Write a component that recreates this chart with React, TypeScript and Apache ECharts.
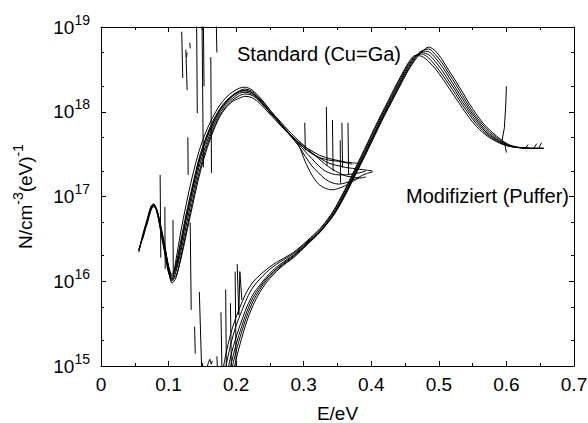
import React, { useEffect, useRef } from "react";
import * as echarts from "echarts";

const FONT = '"Liberation Sans", Arial, sans-serif';

// Standard (Cu=Ga) family: shared energy grid (eV) and densities
const stdX = [0.056,0.062,0.068,0.074,0.078,0.083,0.089,0.095,0.100,0.105,
  0.111,0.118,0.126,0.135,0.145,0.155,0.165,0.175,0.185,0.195,
  0.205,0.213,0.222,0.232,0.242,0.252,0.262,0.272,0.282,0.292,
  0.302,0.312,0.322,0.332,0.342,0.352,0.362,0.372,0.382,0.392,0.402];
const std1 = [2.3e16,3.4e16,5.0e16,7.4e16,8.0e16,6.6e16,3.8e16,2.2e16,1.4e16,1.1e16,
  1.5e16,2.7e16,5.6e16,1.2e17,2.6e17,4.6e17,7.2e17,1.02e18,1.3e18,1.55e18,
  1.74e18,1.8e18,1.7e18,1.45e18,1.18e18,9.5e17,7.7e17,6.3e17,5.2e17,4.4e17,
  3.85e17,3.45e17,3.1e17,2.9e17,2.75e17,2.65e17,2.55e17,2.5e17,2.45e17,null,null];
const std2 = [2.4e16,3.3e16,4.8e16,7.0e16,7.8e16,6.9e16,4.2e16,2.4e16,1.5e16,1.05e16,
  1.15e16,1.8e16,3.5e16,7.5e16,1.7e17,3.3e17,5.6e17,8.5e17,1.12e18,1.33e18,
  1.45e18,1.52e18,1.48e18,1.32e18,1.1e18,9.0e17,7.4e17,6.1e17,5.1e17,4.3e17,
  3.7e17,3.25e17,2.9e17,2.6e17,2.4e17,2.3e17,2.2e17,2.15e17,2.1e17,2.05e17,2.0e17];
const std3 = [2.2e16,3.6e16,5.3e16,7.7e16,8.2e16,6.4e16,3.6e16,2.0e16,1.25e16,1.05e16,
  1.8e16,3.8e16,8.0e16,1.7e17,3.4e17,5.7e17,8.5e17,1.17e18,1.47e18,1.72e18,
  1.9e18,1.95e18,1.84e18,1.57e18,1.27e18,1.0e18,8.0e17,6.4e17,5.2e17,4.3e17,
  3.65e17,3.2e17,2.9e17,2.75e17,2.65e17,2.6e17,2.5e17,2.4e17,null,null,null];
const std4 = [null,null,4.6e16,6.9e16,7.6e16,6.7e16,4.3e16,2.5e16,1.4e16,9.5e15,
  1.1e16,1.9e16,3.8e16,8.5e16,1.9e17,3.6e17,6.0e17,8.8e17,1.15e18,1.38e18,
  1.55e18,1.62e18,1.58e18,1.4e18,1.15e18,9.4e17,7.7e17,6.3e17,5.1e17,4.2e17,
  3.4e17,2.8e17,2.3e17,2.0e17,1.85e17,1.8e17,1.8e17,1.85e17,1.9e17,2.0e17,null];
const std5 = [2.3e16,3.5e16,5.1e16,7.5e16,8.1e16,6.8e16,4.0e16,2.3e16,1.5e16,1.2e16,
  1.6e16,3.0e16,6.2e16,1.3e17,2.8e17,4.9e17,7.6e17,1.06e18,1.34e18,1.58e18,
  1.77e18,1.85e18,1.77e18,1.52e18,1.24e18,1.0e18,8.2e17,6.7e17,5.5e17,4.6e17,
  3.9e17,3.3e17,2.8e17,2.4e17,2.1e17,1.9e17,1.75e17,1.7e17,1.65e17,1.7e17,null];
const std6 = [null,3.2e16,4.9e16,7.2e16,7.9e16,6.5e16,3.9e16,2.1e16,1.3e16,1.0e16,
  1.3e16,2.2e16,4.5e16,1.0e17,2.2e17,4.0e17,6.5e17,9.4e17,1.22e18,1.45e18,
  1.65e18,1.7e18,1.64e18,1.42e18,1.17e18,9.5e17,7.7e17,6.2e17,5.0e17,4.0e17,
  3.0e17,2.3e17,1.9e17,1.6e17,1.45e17,1.4e17,1.45e17,1.55e17,1.7e17,1.85e17,1.95e17];
const std7 = [2.3e16,3.4e16,5.0e16,7.3e16,7.9e16,6.7e16,4.0e16,2.3e16,1.45e16,1.15e16,
  1.4e16,2.5e16,5.3e16,1.15e17,2.5e17,4.5e17,7.0e17,1.0e18,1.28e18,1.53e18,
  1.72e18,1.76e18,1.7e18,1.47e18,1.2e18,9.6e17,7.8e17,6.3e17,5.1e17,4.1e17,
  2.6e17,1.8e17,1.4e17,1.25e17,1.2e17,1.25e17,1.35e17,1.5e17,1.65e17,null,null];

// Modifiziert (Puffer) family
const modX = [0.178,0.185,0.192,0.2,0.208,0.216,0.225,0.235,0.245,0.255,
  0.265,0.275,0.285,0.295,0.305,0.315,0.325,0.335,0.345,0.355,
  0.365,0.375,0.385,0.395,0.405,0.415,0.425,0.435,0.445,0.455,
  0.465,0.475,0.485,0.495,0.505,0.515,0.525,0.535,0.545,0.555,
  0.565,0.575,0.585,0.595,0.605,0.615,0.625,0.635,0.645,0.655];
const mod1 = [7e14,1.4e15,2.4e15,3.8e15,5.5e15,7.6e15,9.8e15,1.18e16,1.38e16,1.58e16,
  1.77e16,1.96e16,2.2e16,2.55e16,3.0e16,3.55e16,4.25e16,5.35e16,7.0e16,9.8e16,
  1.4e17,2.05e17,3.0e17,4.4e17,6.5e17,9.4e17,1.35e18,1.95e18,2.75e18,3.8e18,
  4.6e18,4.5e18,3.9e18,3.2e18,2.5e18,1.9e18,1.45e18,1.1e18,8.5e17,6.8e17,
  5.7e17,4.95e17,4.45e17,4.1e17,3.9e17,3.8e17,3.75e17,3.7e17,3.7e17,3.7e17];
const mod2 = [5e14,1.0e15,1.8e15,3.0e15,4.4e15,6.3e15,8.5e15,1.06e16,1.28e16,1.49e16,
  1.69e16,1.89e16,2.13e16,2.48e16,2.92e16,3.45e16,4.15e16,5.2e16,6.8e16,9.5e16,
  1.35e17,1.95e17,2.85e17,4.2e17,6.2e17,9.0e17,1.29e18,1.85e18,2.65e18,3.65e18,
  4.6e18,4.8e18,4.3e18,3.5e18,2.75e18,2.1e18,1.6e18,1.2e18,9.3e17,7.3e17,
  6.0e17,5.1e17,4.55e17,4.15e17,3.9e17,3.8e17,3.75e17,3.7e17,3.7e17,3.7e17];
const mod3 = [4e14,7e14,1.3e15,2.2e15,3.4e15,5.0e15,7.0e15,9.0e15,1.13e16,1.36e16,
  1.58e16,1.8e16,2.05e16,2.4e16,2.85e16,3.35e16,4.0e16,5.0e16,6.5e16,9.0e16,
  1.28e17,1.85e17,2.7e17,3.95e17,5.8e17,8.5e17,1.22e18,1.75e18,2.5e18,3.5e18,
  4.5e18,5.0e18,4.7e18,3.9e18,3.05e18,2.3e18,1.75e18,1.3e18,1.0e18,7.8e17,
  6.3e17,5.3e17,4.7e17,4.2e17,3.95e17,3.8e17,3.75e17,3.7e17,3.7e17,null];
const mod4 = [null,5e14,1.0e15,1.8e15,2.9e15,4.4e15,6.4e15,8.5e15,1.08e16,1.3e16,
  1.52e16,1.75e16,2.0e16,2.35e16,2.8e16,3.3e16,3.95e16,4.9e16,6.3e16,8.7e16,
  1.24e17,1.8e17,2.6e17,3.8e17,5.6e17,8.2e17,1.17e18,1.67e18,2.4e18,3.35e18,
  4.4e18,5.2e18,5.1e18,4.3e18,3.4e18,2.55e18,1.9e18,1.42e18,1.07e18,8.3e17,
  6.6e17,5.5e17,4.8e17,4.3e17,4.0e17,3.8e17,3.75e17,3.7e17,3.7e17,3.7e17];
const mod5 = [null,4e14,8e14,1.5e15,2.5e15,3.9e15,5.8e15,8.0e15,1.03e16,1.25e16,
  1.48e16,1.7e16,1.95e16,2.3e16,2.75e16,3.25e16,3.9e16,4.85e16,6.2e16,8.5e16,
  1.2e17,1.75e17,2.5e17,3.65e17,5.4e17,7.9e17,1.13e18,1.6e18,2.3e18,3.2e18,
  4.25e18,5.2e18,5.5e18,4.7e18,3.75e18,2.8e18,2.1e18,1.55e18,1.15e18,8.8e17,
  7.0e17,5.8e17,5.0e17,4.4e17,4.0e17,3.8e17,3.75e17,3.7e17,null,null];
const mod6 = [null,null,6e14,1.2e15,2.1e15,3.4e15,5.2e15,7.4e15,9.7e15,1.2e16,
  1.43e16,1.66e16,1.9e16,2.25e16,2.7e16,3.2e16,3.85e16,4.8e16,6.1e16,8.3e16,
  1.17e17,1.7e17,2.45e17,3.55e17,5.2e17,7.6e17,1.09e18,1.55e18,2.2e18,3.1e18,
  4.1e18,5.1e18,5.8e18,5.2e18,4.1e18,3.05e18,2.3e18,1.7e18,1.25e18,9.5e17,
  7.4e17,6.1e17,5.2e17,4.5e17,4.05e17,3.85e17,3.75e17,3.7e17,3.7e17,3.7e17];

// Noise spikes (short measured segments)
const spikes: number[][][] = [
  [[0.1195, 8.8e18], [0.121, 2.5e18]],
  [[0.1255, 5.4e18], [0.1275, 1.8e18]],
  [[0.1265, 4.4e18], [0.1275, 5.0e18]],
  [[0.1315, 6.5e18], [0.132, 5.6e18]],
  [[0.1415, 1.2e19], [0.1425, 9.6e17]],
  [[0.1495, 1.2e19], [0.1515, 2.2e17]],
  [[0.1515, 1.2e19], [0.1525, 2.0e18]],
  [[0.1625, 4.4e18], [0.1635, 1.9e17]],
  [[0.1705, 1.2e19], [0.1715, 5.0e18]],
  [[0.1285, 5.0e17], [0.129, 1.8e17]],
  [[0.0875, 1.8e17], [0.0885, 1.9e16]],
  [[0.0945, 7.5e16], [0.095, 1.4e16]],
  [[0.1065, 5.3e16], [0.107, 1.2e16]],
  [[0.132, 4.9e16], [0.1335, 4.6e15]],
  [[0.1385, 2.9e15], [0.1395, 1.4e15]],
  [[0.1455, 7.5e15], [0.149, 9e14]],
  [[0.156, 9e14], [0.159, 1.1e15], [0.161, 1.2e15], [0.163, 1.05e15], [0.165, 1.15e15]],
  [[0.1715, 1.3e15], [0.1725, 9e14]],
  [[0.1775, 4.3e15], [0.179, 9e14]],
  [[0.1845, 8e15], [0.1855, 9e14]],
  [[0.1915, 5.5e15], [0.193, 9e14]],
  [[0.1985, 1.3e16], [0.2, 9e14]],
  [[0.2015, 1.6e16], [0.204, 4e15], [0.2055, 1.3e16], [0.2085, 6e15]],
  [[0.3015, 7.4e17], [0.3025, 3.5e17]],
  [[0.3335, 1.14e18], [0.3345, 2.3e17]],
  [[0.3425, 8e17], [0.3435, 2.0e17]],
  [[0.3565, 7.4e17], [0.3575, 2.2e17]],
  [[0.3655, 7.4e17], [0.3665, 1.8e17]],
  [[0.354, 4.6e17], [0.3545, 1.45e17]],
  [[0.593, 4.3e17], [0.597, 6.5e17], [0.599, 1.2e18], [0.6, 2.0e18]],
  [[0.598, 4.0e17], [0.6, 3.3e17]],
  [[0.628, 3.7e17], [0.632, 4.1e17]],
  [[0.64, 3.7e17], [0.645, 4.2e17]],
  [[0.648, 3.75e17], [0.652, 4.3e17]],
];

const yMajor = [1e15, 1e16, 1e17, 1e18, 1e19];
const yMinor = [2e15, 5e15, 2e16, 5e16, 2e17, 5e17, 2e18, 5e18];

const pair = (xs: number[], ys: (number | null)[]) =>
  xs.map((x, i) => [x, ys[i] === undefined ? null : ys[i]]);

export default function App() {
  const ref = useRef<HTMLDivElement>(null);
  useEffect(() => {
    if (!ref.current) return;
    const chart = echarts.init(ref.current, undefined, { renderer: "svg" });
    const lineBase = {
      type: "line",
      showSymbol: false,
      symbol: "none",
      silent: true,
      clip: true,
      smooth: 0.3,
      lineStyle: { color: "#000", width: 1 },
      xAxisIndex: 0,
      yAxisIndex: 0,
    };
    const curves = [
      ...[std1, std2, std3, std4, std5, std6, std7].map((ys) => pair(stdX, ys)),
      ...[mod1, mod2, mod3, mod4, mod5, mod6].map((ys) => pair(modX, ys)),
    ];
    const series: any[] = [
      ...curves.map((d) => ({ ...lineBase, data: d })),
      ...spikes.map((d) => ({ ...lineBase, smooth: false, data: d })),
    ];
    const black = { color: "#000", width: 1 };
    const xCommon = {
      type: "value",
      min: 0,
      max: 0.7,
      interval: 0.1,
      axisLine: { show: true, onZero: false, lineStyle: black },
      axisTick: { show: true, inside: true, length: 5, lineStyle: black },
      minorTick: { show: true, splitNumber: 2, length: 3, lineStyle: black },
      splitLine: { show: false },
      minorSplitLine: { show: false },
    };
    const yCommon = {
      type: "log",
      logBase: 10,
      min: 1e15,
      max: 1e19,
      splitLine: { show: false },
      minorSplitLine: { show: false },
    };
    const supRich = {
      b: { fontSize: 19, fontFamily: FONT, color: "#000", verticalAlign: "bottom", lineHeight: 19 },
      s: { fontSize: 14, fontFamily: FONT, color: "#000", verticalAlign: "bottom", lineHeight: 14, padding: [0, 0, 10, 0] },
    };
    chart.setOption({
      animation: false,
      textStyle: { fontFamily: FONT },
      grid: { left: 101, right: 14, top: 27, bottom: 57, containLabel: false, outerBoundsMode: "none" },
      xAxis: [
        {
          ...xCommon,
          position: "bottom",
          axisLabel: {
            color: "#000",
            fontSize: 19,
            fontFamily: FONT,
            margin: 9,
            formatter: (v: number) => (v === 0 ? "0" : v.toFixed(1)),
          },
          name: "E/eV",
          nameLocation: "middle",
          nameGap: 38,
          nameTextStyle: { color: "#000", fontSize: 19, lineHeight: 18, fontFamily: FONT },
        },
        { ...xCommon, position: "top", axisLabel: { show: false } },
      ],
      yAxis: [
        {
          ...yCommon,
          position: "left",
          axisLine: { show: true, lineStyle: black },
          axisTick: { show: true, inside: true, length: 5, lineStyle: black, customValues: yMajor },
          axisLabel: {
            customValues: yMajor,
            margin: 11,
            formatter: (v: number) => "{b|10}{s|" + Math.round(Math.log10(v)) + "}",
            rich: supRich,
          },
          name: "{b|N/cm}{s|-3}{b|(eV)}{s|-1}",
          nameLocation: "middle",
          nameRotate: 90,
          nameGap: 66,
          nameTextStyle: { rich: supRich },
        },
        {
          ...yCommon,
          position: "left",
          axisLine: { show: false },
          axisTick: { show: true, inside: true, length: 3, lineStyle: black, customValues: yMinor },
          axisLabel: { show: false },
        },
        {
          ...yCommon,
          position: "right",
          axisLine: { show: true, lineStyle: black },
          axisTick: { show: true, inside: true, length: 5, lineStyle: black, customValues: yMajor },
          axisLabel: { show: false },
        },
        {
          ...yCommon,
          position: "right",
          axisLine: { show: false },
          axisTick: { show: true, inside: true, length: 3, lineStyle: black, customValues: yMinor },
          axisLabel: { show: false },
        },
      ],
      graphic: [
        {
          type: "text",
          left: 237,
          top: 44,
          style: { text: "Standard (Cu=Ga)", font: '20px "Liberation Sans", Arial, sans-serif', fill: "#000" },
        },
        {
          type: "text",
          left: 406,
          top: 186,
          style: { text: "Modifiziert (Puffer)", font: '20px "Liberation Sans", Arial, sans-serif', fill: "#000" },
        },
      ],
      series,
    });
    return () => chart.dispose();
  }, []);
  return (
    <div
      ref={ref}
      style={{ position: "fixed", left: 0, top: 0, width: 588, height: 423, background: "#fff" }}
    />
  );
}
